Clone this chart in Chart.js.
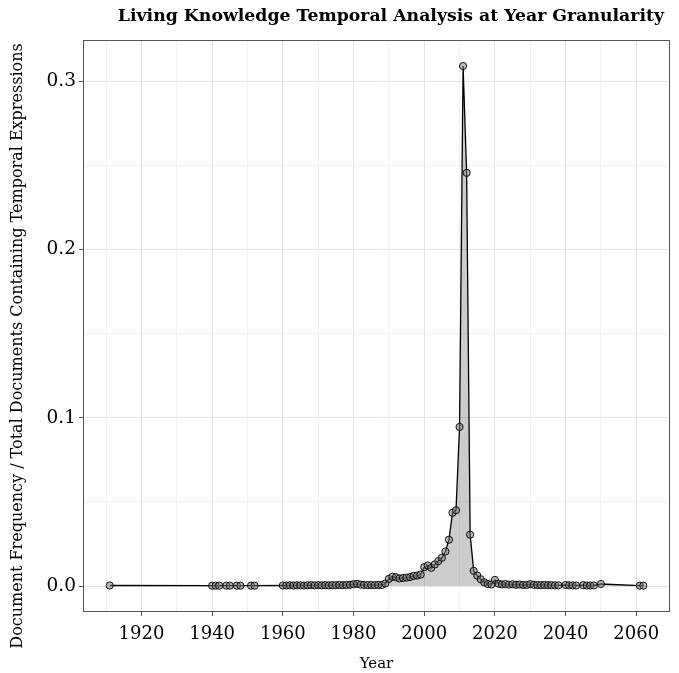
<!DOCTYPE html>
<html>
<head>
<meta charset="utf-8">
<script src="https://cdn.jsdelivr.net/npm/chart.js@4"></script>
<style>
  html, body { margin: 0; padding: 0; background: #fff; }
  #wrap { width: 679px; height: 673px; }
</style>
</head>
<body>
<div id="wrap"><canvas id="chart1"></canvas></div>
<script>
// years seen in the picture and their share of documents
const years = [
  1911, 1940, 1941, 1942, 1944, 1945, 1947, 1948, 1951, 1952,
  1960, 1961, 1962, 1963, 1964, 1965, 1966, 1967, 1968, 1969,
  1970, 1971, 1972, 1973, 1974, 1975, 1976, 1977, 1978, 1979,
  1980, 1981, 1982, 1983, 1984, 1985, 1986, 1987, 1988, 1989,
  1990, 1991, 1992, 1993, 1994, 1995, 1996, 1997, 1998, 1999,
  2000, 2001, 2002, 2003, 2004, 2005, 2006, 2007, 2008, 2009,
  2010, 2011, 2012, 2013, 2014, 2015, 2016, 2017, 2018, 2019,
  2020, 2021, 2022, 2023, 2024, 2025, 2026, 2027, 2028, 2029,
  2030, 2031, 2032, 2033, 2034, 2035, 2036, 2037, 2038, 2040,
  2041, 2042, 2043, 2045, 2046, 2047, 2048, 2050, 2061, 2062
]
const freq = [
  0.0003, 0.0002, 0.0002, 0.0002, 0.0002, 0.0002, 0.0002, 0.0002, 0.0002, 0.0002,
  0.0003, 0.0003, 0.0004, 0.0003, 0.0004, 0.0004, 0.0003, 0.0004, 0.0005, 0.0004,
  0.0005, 0.0004, 0.0005, 0.0004, 0.0005, 0.0005, 0.0006, 0.0005, 0.0006, 0.0007,
  0.0011, 0.0013, 0.0008, 0.0006, 0.0005, 0.0006, 0.0005, 0.0006, 0.0006, 0.0015,
  0.0042, 0.0055, 0.0052, 0.0045, 0.0048, 0.0050, 0.0053, 0.0060, 0.0062, 0.0068,
  0.0112, 0.0122, 0.0108, 0.0128, 0.0148, 0.0168, 0.0205, 0.0275, 0.0435, 0.0450,
  0.0945, 0.3090, 0.2455, 0.0305, 0.0090, 0.0062, 0.0040, 0.0022, 0.0012, 0.0009,
  0.0036, 0.0014, 0.0009, 0.0012, 0.0008, 0.0010, 0.0007, 0.0009, 0.0006, 0.0006,
  0.0011, 0.0007, 0.0006, 0.0005, 0.0006, 0.0005, 0.0005, 0.0004, 0.0004, 0.0006,
  0.0004, 0.0004, 0.0003, 0.0005, 0.0003, 0.0003, 0.0003, 0.0012, 0.0002, 0.0002
]
const xTicksMajor = [1920, 1940, 1960, 1980, 2000, 2020, 2040, 2060]
const yTicksMajor = [0, 0.1, 0.2, 0.3]

const serif = "'DejaVu Serif', 'Liberation Serif', serif"
const points = years.map((y, i) => ({ x: y, y: freq[i] }))

const isMajorX = v => xTicksMajor.includes(Math.round(v))
const isMajorY = v => yTicksMajor.some(t => Math.abs(t - v) < 1e-6)

// panel border, title and y label drawn by hand, like ggplot's theme_bw
const panelBits = {
  id: 'panelBits',
  afterDraw(chart) {
    const { ctx, chartArea: a } = chart
    ctx.save()
    ctx.strokeStyle = '#555'
    ctx.lineWidth = 1
    ctx.strokeRect(a.left + 0.5, a.top + 0.5, a.right - a.left - 1, a.bottom - a.top - 1)
    ctx.fillStyle = '#000'
    ctx.font = "bold 17.3px " + serif
    ctx.textAlign = 'right'
    ctx.textBaseline = 'middle'
    ctx.fillText('Living Knowledge Temporal Analysis at Year Granularity', 664, 17)

    ctx.translate(18, 346)
    ctx.rotate(-Math.PI / 2)
    ctx.textAlign = 'center'
    ctx.font = "16px " + serif
    ctx.fillText('Document Frequency / Total Documents Containing Temporal Expressions', 0, 0)
    ctx.restore()
  }
}

new Chart(document.getElementById('chart1'), {
  type: 'line',
  data: {
    datasets: [{
      data: points,
      borderColor: '#000',
      borderWidth: 1.3,
      backgroundColor: 'rgba(0,0,0,0.2)',
      fill: 'origin',
      tension: 0,
      pointRadius: 3.6,
      pointBorderWidth: 0.9,
      pointBackgroundColor: 'rgba(120,120,120,0.5)',
      pointBorderColor: '#000'
    }]
  },
  options: {
    responsive: true,
    maintainAspectRatio: false,
    animation: false,
    layout: { padding: { top: 40, right: 9, left: 9, bottom: 0 } },
    plugins: { legend: { display: false }, tooltip: { enabled: false } },
    scales: {
      x: {
        type: 'linear',
        min: 1903.45,
        max: 2069.55,
        afterFit: s => { s.height = 61 },
        ticks: {
          stepSize: 10,
          includeBounds: false,
          autoSkip: false,
          maxRotation: 0,
          color: '#000',
          padding: 8,
          font: { family: serif, size: 18 },
          callback: v => isMajorX(v) ? String(v) : ''
        },
        grid: {
          color: c => isMajorX(c.tick.value) ? '#e4e4e4' : '#f2f2f2',
          tickColor: c => isMajorX(c.tick.value) ? '#555' : 'rgba(0,0,0,0)',
          tickLength: 4
        },
        border: { display: false },
        title: {
          display: true,
          text: 'Year',
          color: '#000',
          font: { family: serif, size: 15 },
          padding: { top: 4, bottom: 0 }
        }
      },
      y: {
        type: 'linear',
        min: -0.01545,
        max: 0.32445,
        afterFit: s => { s.width = 74 },
        ticks: {
          stepSize: 0.05,
          includeBounds: false,
          autoSkip: false,
          color: '#000',
          padding: 3,
          font: { family: serif, size: 18.5 },
          callback: v => isMajorY(v) ? Number(v).toFixed(1) : ''
        },
        grid: {
          color: c => isMajorY(c.tick.value) ? '#e4e4e4' : '#f2f2f2',
          tickColor: c => isMajorY(c.tick.value) ? '#555' : 'rgba(0,0,0,0)',
          tickLength: 4
        },
        border: { display: false }
      }
    }
  },
  plugins: [panelBits]
})
</script>
</body>
</html>
